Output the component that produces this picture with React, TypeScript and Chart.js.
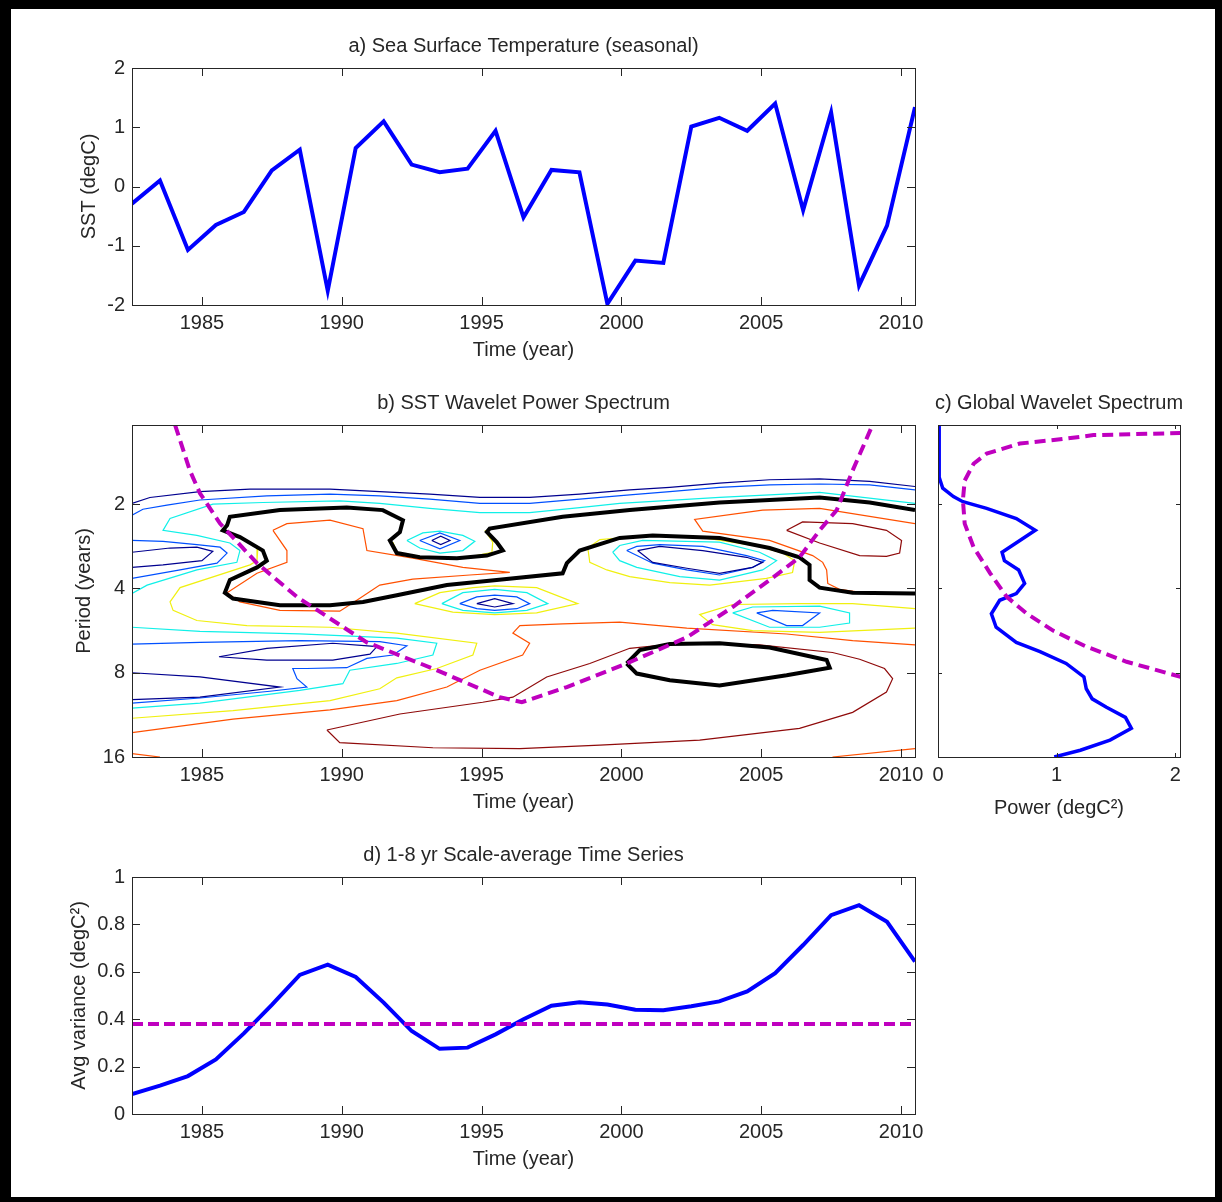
import React, { useEffect, useRef } from "react";
import { Chart, registerables } from "chart.js";

Chart.register(...registerables);

const FONT_FAMILY = "'Liberation Sans', Arial, Helvetica, sans-serif";
const FONT_SIZE = 20;
const TEXT_COLOR = "#262626";
const AXIS_COLOR = "#262626";

// ---------- Panel a / d : yearly series ----------
const YEARS = [1982.5, 1983.5, 1984.5, 1985.5, 1986.5, 1987.5, 1988.5, 1989.5, 1990.5, 1991.5, 1992.5, 1993.5, 1994.5, 1995.5, 1996.5, 1997.5, 1998.5, 1999.5, 2000.5, 2001.5, 2002.5, 2003.5, 2004.5, 2005.5, 2006.5, 2007.5, 2008.5, 2009.5, 2010.5];
const SST = [-0.29, 0.1, -1.07, -0.65, -0.43, 0.27, 0.62, -1.76, 0.65, 1.1, 0.37, 0.24, 0.3, 0.94, -0.52, 0.28, 0.24, -1.98, -1.25, -1.29, 1.01, 1.16, 0.94, 1.4, -0.4, 1.25, -1.67, -0.66, 1.34];
const AVG_VAR = [0.084, 0.12, 0.16, 0.23, 0.34, 0.46, 0.587, 0.63, 0.578, 0.47, 0.35, 0.275, 0.28, 0.336, 0.4, 0.457, 0.471, 0.462, 0.44, 0.438, 0.455, 0.475, 0.517, 0.594, 0.713, 0.839, 0.881, 0.811, 0.643];
const AVG_VAR_SIGNIF = 0.38;

const YEAR_TICKS = [1985, 1990, 1995, 2000, 2005, 2010];
const SST_TICKS = [-2, -1, 0, 1, 2];
const VAR_TICKS = [0, 0.2, 0.4, 0.6, 0.8, 1];
const PERIOD_TICKS = [2, 4, 8, 16];
const POWER_TICKS = [0, 1, 2];

// ---------- Panel c : global wavelet spectrum (log2 period, power) ----------
const GWS_LOG2P = [0.06, 0.68, 0.81, 0.91, 0.97, 1.05, 1.17, 1.31, 1.43, 1.57, 1.67, 1.78, 1.94, 2.06, 2.14, 2.3, 2.46, 2.64, 2.75, 2.89, 3.05, 3.19, 3.31, 3.41, 3.53, 3.66, 3.8, 3.92, 4.0];
const GWS_POWER = [0.01, 0.01, 0.04, 0.13, 0.21, 0.41, 0.66, 0.82, 0.69, 0.54, 0.56, 0.68, 0.73, 0.66, 0.52, 0.45, 0.49, 0.66, 0.86, 1.08, 1.23, 1.25, 1.3, 1.42, 1.58, 1.63, 1.45, 1.2, 0.98];
const GWS_SIG_LOG2P = [0.155, 0.18, 0.23, 0.28, 0.4, 0.52, 0.72, 0.95, 1.23, 1.51, 1.82, 2.1, 2.3, 2.5, 2.69, 2.87, 3.05];
const GWS_SIG_POWER = [2.05, 1.31, 1.03, 0.69, 0.41, 0.3, 0.225, 0.21, 0.225, 0.3, 0.44, 0.58, 0.75, 0.97, 1.25, 1.59, 2.05];

// ---------- Panel b : contour polylines [year, log2(period)] ----------
const COI = [[1984.04, 0.06], [1984.57, 0.6], [1984.93, 0.87], [1985.65, 1.23], [1986.97, 1.7], [1988.4, 2.1], [1989.83, 2.41], [1990.9, 2.64], [1993.26, 2.95], [1995.65, 3.29], [1996.44, 3.35], [1998.05, 3.17], [2000.19, 2.89], [2002.34, 2.58], [2003.98, 2.22], [2005.3, 1.9], [2006.37, 1.63], [2007.09, 1.31], [2007.7, 1.07], [2008.27, 0.6], [2008.98, 0.06]];

const NAVY_A = [[1982.5, 0.99], [1983.14, 0.92], [1984.93, 0.85], [1986.72, 0.82], [1989.58, 0.82], [1991.36, 0.85], [1993.15, 0.88], [1994.94, 0.92], [1996.72, 0.92], [1998.51, 0.88], [2000.3, 0.83], [2001.73, 0.8], [2003.51, 0.75], [2005.3, 0.71], [2007.09, 0.7], [2008.88, 0.73], [2010.5, 0.79]];
const NAVY_B = [[1982.5, 1.57], [1983.86, 1.52], [1984.82, 1.51], [1985.39, 1.56], [1985.0, 1.67], [1983.61, 1.72], [1982.5, 1.75]];
const NAVY_C = [[1993.22, 1.43], [1993.54, 1.38], [1993.87, 1.43], [1993.54, 1.48], [1993.22, 1.43]];
const NAVY_D = [[1994.83, 2.18], [1995.47, 2.12], [1996.12, 2.18], [1995.47, 2.22], [1994.83, 2.18]];
const NAVY_E = [[2000.58, 1.55], [2001.37, 1.5], [2002.91, 1.55], [2004.48, 1.63], [2005.05, 1.69], [2004.69, 1.75], [2003.51, 1.82], [2002.34, 1.76], [2001.12, 1.69], [2000.58, 1.55]];
const NAVY_F = [[1985.61, 2.81], [1987.32, 2.71], [1989.68, 2.65], [1991.26, 2.69], [1991.01, 2.78], [1989.68, 2.85], [1987.32, 2.85], [1985.61, 2.81]];
const NAVY_G = [[1982.5, 3.0], [1984.93, 3.05], [1987.79, 3.17], [1984.93, 3.29], [1982.5, 3.32]];

const BLUE_A = [[1982.5, 1.13], [1982.89, 1.06], [1983.75, 1.01], [1984.93, 0.95], [1987.32, 0.9], [1989.58, 0.88], [1991.36, 0.9], [1993.15, 0.94], [1994.94, 0.99], [1996.72, 0.99], [1998.51, 0.94], [2000.3, 0.89], [2001.73, 0.85], [2003.51, 0.8], [2005.3, 0.77], [2007.09, 0.76], [2008.88, 0.77], [2010.5, 0.83]];
const BLUE_B = [[1982.5, 1.43], [1983.61, 1.44], [1984.82, 1.48], [1985.65, 1.51], [1985.9, 1.58], [1985.54, 1.7], [1984.22, 1.78], [1982.5, 1.88]];
const BLUE_C = [[1992.79, 1.43], [1993.51, 1.34], [1994.22, 1.43], [1993.51, 1.53], [1992.79, 1.43]];
const BLUE_D = [[1994.22, 2.18], [1994.83, 2.1], [1995.47, 2.08], [1996.26, 2.1], [1996.72, 2.18], [1996.26, 2.24], [1995.47, 2.26], [1994.83, 2.24], [1994.22, 2.18]];
const BLUE_E = [[2000.19, 1.55], [2000.55, 1.5], [2001.37, 1.48], [2002.91, 1.5], [2004.48, 1.61], [2005.12, 1.67], [2004.69, 1.75], [2003.51, 1.84], [2002.34, 1.78], [2001.12, 1.7], [2000.19, 1.55]];
const BLUE_F = [[1982.5, 2.66], [1984.93, 2.64], [1988.5, 2.62], [1991.36, 2.63], [1992.33, 2.68], [1991.83, 2.79], [1990.9, 2.83], [1990.18, 2.94], [1988.75, 2.95], [1988.25, 2.95], [1988.4, 3.07], [1988.75, 3.17], [1987.43, 3.22], [1984.93, 3.3], [1982.5, 3.36]];
const BLUE_G = [[2004.84, 2.29], [2005.41, 2.26], [2007.09, 2.29], [2006.48, 2.44], [2005.91, 2.44], [2004.84, 2.29]];

const CYAN_A = [[2010.5, 0.99], [2007.09, 0.86], [2003.51, 0.92], [1999.94, 0.99], [1998.51, 1.04], [1996.72, 1.1], [1994.94, 1.1], [1993.15, 1.05], [1991.36, 0.99], [1989.93, 0.96], [1987.18, 0.98], [1985.39, 1.0], [1983.86, 1.17], [1983.61, 1.31], [1984.82, 1.37], [1986.0, 1.46], [1986.36, 1.55], [1986.25, 1.69], [1984.82, 1.78], [1983.04, 1.96], [1982.5, 2.06]];
const CYAN_B = [[1992.33, 1.43], [1992.9, 1.34], [1993.51, 1.32], [1994.33, 1.37], [1994.76, 1.44], [1994.33, 1.55], [1993.51, 1.58], [1992.79, 1.52], [1992.33, 1.43]];
const CYAN_C = [[1993.58, 2.18], [1994.33, 2.05], [1995.47, 2.01], [1996.62, 2.05], [1997.37, 2.18], [1996.62, 2.26], [1995.47, 2.29], [1994.33, 2.26], [1993.58, 2.18]];
const CYAN_D = [[1999.69, 1.57], [1999.94, 1.49], [2000.76, 1.43], [2003.51, 1.45], [2004.94, 1.57], [2005.55, 1.67], [2005.05, 1.78], [2003.51, 1.9], [2002.09, 1.86], [2000.55, 1.75], [1999.94, 1.67], [1999.69, 1.57]];
const CYAN_E = [[2003.98, 2.29], [2004.69, 2.22], [2007.09, 2.21], [2008.16, 2.29], [2008.16, 2.41], [2007.09, 2.46], [2005.3, 2.46], [2003.98, 2.29]];
const CYAN_F = [[1982.5, 2.46], [1984.93, 2.51], [1988.5, 2.54], [1991.97, 2.59], [1993.4, 2.65], [1993.26, 2.79], [1991.97, 2.89], [1990.29, 2.97], [1990.04, 3.13], [1988.5, 3.21], [1984.93, 3.36], [1982.5, 3.42]];

const YELLOW_A = [[1985.82, 1.31], [1986.54, 1.43], [1987.0, 1.52], [1986.97, 1.67], [1986.72, 1.72], [1984.22, 1.99], [1983.86, 2.16], [1983.97, 2.26], [1984.82, 2.38], [1986.61, 2.44], [1989.58, 2.46], [1991.97, 2.53], [1994.83, 2.65], [1994.69, 2.79], [1993.4, 2.95], [1991.97, 3.06], [1991.36, 3.19], [1989.58, 3.33], [1986.11, 3.45], [1982.5, 3.54]];
const YELLOW_B = [[1992.61, 2.18], [1993.51, 2.05], [1994.69, 1.99], [1995.47, 1.97], [1996.97, 1.99], [1998.44, 2.18], [1996.97, 2.29], [1995.47, 2.31], [1993.97, 2.28], [1992.61, 2.18]];
const YELLOW_C = [[1998.8, 1.52], [1998.87, 1.69], [1999.48, 1.78], [2000.3, 1.86], [2001.73, 1.93], [2003.16, 1.96], [2005.19, 1.88], [2006.12, 1.81], [2006.2, 1.67], [2005.77, 1.58], [2004.94, 1.5], [2002.8, 1.39], [2000.66, 1.38], [1999.23, 1.42], [1998.8, 1.52]];
const YELLOW_D = [[2010.5, 2.24], [2008.27, 2.18], [2006.37, 2.18], [2003.98, 2.19], [2002.8, 2.31], [2003.26, 2.43], [2004.69, 2.5], [2007.09, 2.52], [2010.5, 2.47]];
const YELLOW_E = [[1991.83, 1.45], [1991.97, 1.57], [1992.79, 1.62], [1993.97, 1.64], [1994.69, 1.62], [1995.37, 1.57], [1995.4, 1.45], [1995.12, 1.31]];

const ORANGE_A = [[1987.54, 1.31], [1988.04, 1.23], [1989.58, 1.19], [1990.76, 1.29], [1990.9, 1.55], [1992.54, 1.64], [1994.33, 1.75], [1996.01, 1.81], [1994.58, 1.84], [1992.54, 1.89], [1991.36, 1.96], [1990.54, 2.14], [1989.93, 2.27], [1987.79, 2.26], [1986.36, 2.16], [1985.9, 2.05], [1986.97, 1.82], [1988.04, 1.69], [1988.04, 1.55], [1987.54, 1.31]];
const ORANGE_B = [[2010.5, 1.23], [2007.09, 1.05], [2005.05, 1.07], [2002.62, 1.18], [2002.91, 1.32], [2005.3, 1.43], [2006.84, 1.61], [2007.2, 1.69], [2007.34, 1.78], [2007.38, 1.94], [2007.8, 2.01], [2008.88, 2.06]];
const ORANGE_C = [[2010.5, 2.67], [2008.27, 2.62], [2005.91, 2.54], [2002.34, 2.47], [1999.94, 2.4], [1997.9, 2.42], [1996.37, 2.44], [1996.12, 2.53], [1996.72, 2.65], [1996.47, 2.79], [1994.94, 2.97], [1993.76, 3.17], [1991.97, 3.33], [1989.58, 3.44], [1986.11, 3.55], [1982.5, 3.71]];
const ORANGE_D = [[1982.5, 3.96], [1983.5, 4.0]];
const ORANGE_E = [[2007.55, 4.0], [2010.5, 3.9]];

const MAROON_A = [[2005.91, 1.31], [2006.48, 1.21], [2008.27, 1.23], [2009.48, 1.31], [2010.02, 1.43], [2009.95, 1.58], [2009.48, 1.62], [2008.52, 1.61], [2007.09, 1.46], [2005.91, 1.31]];
const MAROON_B = [[1989.47, 3.68], [1989.93, 3.83], [1993.26, 3.89], [1996.37, 3.9], [1999.23, 3.86], [2002.8, 3.8], [2006.37, 3.66], [2008.27, 3.47], [2009.48, 3.23], [2009.7, 3.07], [2009.41, 2.95], [2008.52, 2.84], [2007.55, 2.76], [2004.94, 2.67], [2002.09, 2.65], [2000.3, 2.71], [1998.87, 2.89], [1997.33, 3.05], [1996.12, 3.29], [1995.04, 3.35], [1992.08, 3.49], [1989.47, 3.68]];

const SIGNIF_A = [[2010.5, 1.07], [2008.88, 0.98], [2007.09, 0.92], [2003.51, 0.98], [2000.3, 1.07], [1997.9, 1.15], [1995.29, 1.29], [1995.19, 1.33], [1995.54, 1.45], [1995.76, 1.55], [1995.19, 1.61], [1994.12, 1.64], [1992.79, 1.63], [1991.97, 1.58], [1991.72, 1.43], [1992.08, 1.33], [1992.19, 1.19], [1991.47, 1.07], [1990.18, 1.04], [1987.79, 1.07], [1986.0, 1.15], [1985.9, 1.25], [1985.75, 1.31], [1986.36, 1.39], [1987.18, 1.55], [1987.32, 1.67], [1986.97, 1.75], [1986.0, 1.9], [1985.82, 2.05], [1986.11, 2.12], [1987.79, 2.2], [1989.58, 2.2], [1990.76, 2.16], [1991.97, 2.08], [1993.76, 1.96], [1995.54, 1.9], [1997.9, 1.82], [1998.05, 1.7], [1998.51, 1.55], [1999.94, 1.4], [2001.12, 1.37], [2003.51, 1.4], [2005.3, 1.52], [2006.37, 1.63], [2006.73, 1.72], [2006.73, 1.9], [2007.09, 1.99], [2008.27, 2.05], [2010.5, 2.06]];
const SIGNIF_B = [[2000.19, 2.89], [2000.66, 2.73], [2001.73, 2.66], [2003.51, 2.65], [2005.3, 2.7], [2007.34, 2.85], [2007.45, 2.94], [2005.91, 3.03], [2003.51, 3.15], [2001.73, 3.09], [2000.55, 3.01], [2000.19, 2.89]];

const C_NAVY = "#00008f";
const C_BLUE = "#0050ff";
const C_CYAN = "#10f0e8";
const C_YELLOW = "#f0f010";
const C_ORANGE = "#ff5000";
const C_MAROON = "#8f0a0a";
const C_LINE = "#0000ff";
const C_MAGENTA = "#bf00bf";

const CONTOUR_LEVELS = [
  { color: C_NAVY, width: 1.2, paths: [NAVY_A, NAVY_B, NAVY_C, NAVY_D, NAVY_E, NAVY_F, NAVY_G] },
  { color: C_BLUE, width: 1.2, paths: [BLUE_A, BLUE_B, BLUE_C, BLUE_D, BLUE_E, BLUE_F, BLUE_G] },
  { color: C_CYAN, width: 1.2, paths: [CYAN_A, CYAN_B, CYAN_C, CYAN_D, CYAN_E, CYAN_F] },
  { color: C_YELLOW, width: 1.2, paths: [YELLOW_A, YELLOW_B, YELLOW_C, YELLOW_D, YELLOW_E] },
  { color: C_ORANGE, width: 1.2, paths: [ORANGE_A, ORANGE_B, ORANGE_C, ORANGE_D, ORANGE_E] },
  { color: C_MAROON, width: 1.2, paths: [MAROON_A, MAROON_B] },
];

// ---------- helpers ----------
const font = { family: FONT_FAMILY, size: FONT_SIZE, weight: "normal" };

function pairs(points: number[][]) {
  return points.map(([x, y]) => ({ x, y }));
}

function lineSet(data: any[], color: string, width: number, order: number, dash: number[] = []) {
  return {
    data,
    showLine: true,
    borderColor: color,
    backgroundColor: color,
    borderWidth: width,
    borderDash: dash,
    pointRadius: 0,
    pointHoverRadius: 0,
    fill: false,
    tension: 0,
    clip: 0,
    order,
  };
}

const framePlugin = {
  id: "matlabFrame",
  afterDraw(chart: any, _args: any, opts: any) {
    const { ctx, chartArea: a, scales } = chart;
    const L = opts.tickLen;
    ctx.save();
    ctx.strokeStyle = AXIS_COLOR;
    ctx.lineWidth = 1;
    ctx.beginPath();
    const xs = scales.x;
    const ys = scales.y;
    for (const t of xs.ticks) {
      const p = Math.round(xs.getPixelForValue(t.value)) + 0.5;
      ctx.moveTo(p, a.bottom);
      ctx.lineTo(p, a.bottom - L);
      ctx.moveTo(p, a.top);
      ctx.lineTo(p, a.top + L);
    }
    for (const t of ys.ticks) {
      const p = Math.round(ys.getPixelForValue(t.value)) + 0.5;
      ctx.moveTo(a.left, p);
      ctx.lineTo(a.left + L, p);
      ctx.moveTo(a.right, p);
      ctx.lineTo(a.right - L, p);
    }
    ctx.stroke();
    ctx.strokeRect(Math.round(a.left) + 0.5, Math.round(a.top) + 0.5, Math.round(a.right - a.left), Math.round(a.bottom - a.top));
    if (opts.title) {
      ctx.fillStyle = TEXT_COLOR;
      ctx.font = `${FONT_SIZE}px ${FONT_FAMILY}`;
      ctx.textAlign = "center";
      ctx.textBaseline = "middle";
      ctx.fillText(opts.title, (a.left + a.right) / 2, a.top - 22);
    }
    ctx.restore();
  },
};

function xAxis(o: any) {
  return {
    type: "linear",
    position: "bottom",
    min: o.min,
    max: o.max,
    grid: { display: false, drawTicks: false },
    border: { display: false },
    ticks: {
      autoSkip: false,
      maxRotation: 0,
      minRotation: 0,
      padding: 6,
      color: TEXT_COLOR,
      font,
      callback: (v: number) => String(v),
    },
    afterBuildTicks: (s: any) => {
      s.ticks = o.ticks.map((v: number) => ({ value: v }));
    },
    afterFit: (s: any) => {
      s.height = o.size;
    },
    title: { display: true, text: o.title, color: TEXT_COLOR, font, padding: { top: 0, bottom: 3 } },
  };
}

function yAxis(o: any) {
  return {
    type: "linear",
    position: "left",
    min: o.min,
    max: o.max,
    reverse: !!o.reverse,
    grid: { display: false, drawTicks: false },
    border: { display: false },
    ticks: {
      display: o.showLabels !== false,
      autoSkip: false,
      padding: 7,
      color: TEXT_COLOR,
      font,
      callback: o.fmt || ((v: number) => String(v)),
    },
    afterBuildTicks: (s: any) => {
      s.ticks = o.ticks.map((v: number) => ({ value: v }));
    },
    afterFit: (s: any) => {
      s.width = o.size;
    },
    title: { display: !!o.title, text: o.title || "", color: TEXT_COLOR, font, padding: { top: o.titlePad || 0, bottom: 0 } },
  };
}

function options(o: any) {
  return {
    animation: false,
    responsive: false,
    maintainAspectRatio: false,
    devicePixelRatio: 1,
    events: [],
    layout: { padding: o.padding },
    plugins: {
      legend: { display: false },
      tooltip: { enabled: false },
      title: { display: false },
      matlabFrame: { title: o.title, tickLen: o.tickLen },
    },
    scales: { x: o.x, y: o.y },
  };
}

const periodLog2Ticks = PERIOD_TICKS.map((p) => Math.log2(p));
const periodFmt = (v: number) => String(Math.round(Math.pow(2, v)));

// ---------- chart configs ----------
function configA() {
  return {
    type: "scatter",
    data: { datasets: [lineSet(YEARS.map((x, i) => ({ x, y: SST[i] })), C_LINE, 4, 0)] },
    options: options({
      padding: { left: 62, right: 307, top: 59, bottom: 15 },
      title: "a) Sea Surface Temperature (seasonal)",
      tickLen: 8,
      x: xAxis({ min: YEARS[0], max: YEARS[YEARS.length - 1], ticks: YEAR_TICKS, size: 60, title: "Time (year)" }),
      y: yAxis({ min: -2, max: 2, ticks: SST_TICKS, size: 70, title: "SST (degC)", titlePad: 15 }),
    }),
    plugins: [framePlugin],
  };
}

function configB() {
  const datasets: any[] = [];
  datasets.push(lineSet(pairs(COI), C_MAGENTA, 4, 0, [11, 6]));
  datasets.push(lineSet(pairs(SIGNIF_A), "#000000", 4, 1));
  datasets.push(lineSet(pairs(SIGNIF_B), "#000000", 4, 1));
  CONTOUR_LEVELS.forEach((lvl) => {
    lvl.paths.forEach((p) => datasets.push(lineSet(pairs(p), lvl.color, lvl.width, 2)));
  });
  return {
    type: "scatter",
    data: { datasets },
    options: options({
      padding: { left: 62, right: 307, top: 45, bottom: 13 },
      title: "b) SST Wavelet Power Spectrum",
      tickLen: 8,
      x: xAxis({ min: YEARS[0], max: YEARS[YEARS.length - 1], ticks: YEAR_TICKS, size: 60, title: "Time (year)" }),
      y: yAxis({ min: 0.06, max: 4, reverse: true, ticks: periodLog2Ticks, fmt: periodFmt, size: 70, title: "Period (years)", titlePad: 10 }),
    }),
    plugins: [framePlugin],
  };
}

function configC() {
  const gws = GWS_LOG2P.map((y, i) => ({ x: GWS_POWER[i], y }));
  const sig = GWS_SIG_LOG2P.map((y, i) => ({ x: GWS_SIG_POWER[i], y }));
  return {
    type: "scatter",
    data: { datasets: [lineSet(sig, C_MAGENTA, 4, 0, [11, 6]), lineSet(gws, C_LINE, 3.5, 1)] },
    options: options({
      padding: { left: 13, right: 42, top: 45, bottom: 7 },
      title: "c) Global Wavelet Spectrum",
      tickLen: 4,
      x: xAxis({ min: 0, max: 2.04, ticks: POWER_TICKS, size: 66, title: "Power (degC\u00B2)" }),
      y: yAxis({ min: 0.06, max: 4, reverse: true, ticks: periodLog2Ticks, fmt: periodFmt, size: 0, showLabels: false }),
    }),
    plugins: [framePlugin],
  };
}

function configD() {
  const sigLine = [
    { x: YEARS[0], y: AVG_VAR_SIGNIF },
    { x: YEARS[YEARS.length - 1], y: AVG_VAR_SIGNIF },
  ];
  return {
    type: "scatter",
    data: {
      datasets: [
        lineSet(sigLine, C_MAGENTA, 4, 0, [11, 5]),
        lineSet(YEARS.map((x, i) => ({ x, y: AVG_VAR[i] })), C_LINE, 4, 1),
      ],
    },
    options: options({
      padding: { left: 62, right: 307, top: 47, bottom: 23 },
      title: "d) 1-8 yr Scale-average Time Series",
      tickLen: 8,
      x: xAxis({ min: YEARS[0], max: YEARS[YEARS.length - 1], ticks: YEAR_TICKS, size: 60, title: "Time (year)" }),
      y: yAxis({ min: 0, max: 1, ticks: VAR_TICKS, size: 70, title: "Avg variance (degC\u00B2)", titlePad: 5 }),
    }),
    plugins: [framePlugin],
  };
}

function ChartCanvas({ left, top, width, height, makeConfig }: any) {
  const ref = useRef<HTMLCanvasElement | null>(null);
  useEffect(() => {
    if (!ref.current) return;
    const chart = new Chart(ref.current, makeConfig());
    return () => chart.destroy();
  }, [makeConfig]);
  return (
    <canvas
      ref={ref}
      width={width}
      height={height}
      style={{ position: "absolute", left, top, width, height, display: "block" }}
    />
  );
}

export default function App() {
  useEffect(() => {
    document.body.style.margin = "0";
    document.body.style.overflow = "hidden";
  }, []);
  return (
    <div style={{ position: "absolute", left: 0, top: 0, width: 1222, height: 1202, background: "#000", overflow: "hidden" }}>
      <div style={{ position: "absolute", left: 11, top: 9, width: 1204, height: 1188, background: "#fff" }} />
      <ChartCanvas left={0} top={9} width={1222} height={371} makeConfig={configA} />
      <ChartCanvas left={0} top={380} width={1222} height={450} makeConfig={configB} />
      <ChartCanvas left={925} top={380} width={297} height={450} makeConfig={configC} />
      <ChartCanvas left={0} top={830} width={1222} height={367} makeConfig={configD} />
    </div>
  );
}
